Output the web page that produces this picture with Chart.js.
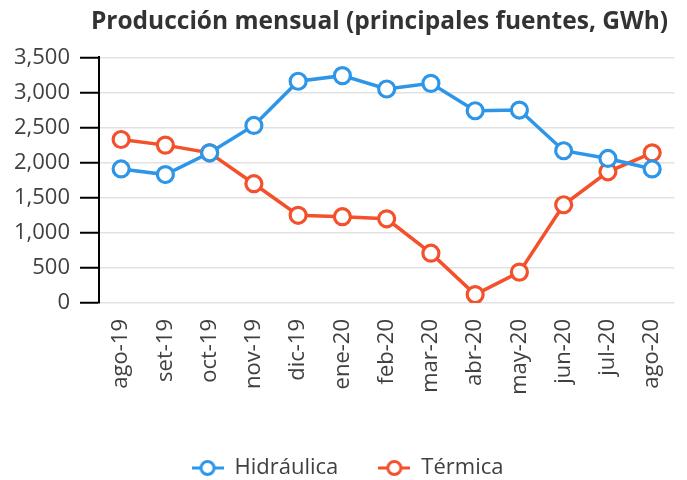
<!DOCTYPE html>
<html>
<head>
<meta charset="utf-8">
<script src="https://cdn.jsdelivr.net/npm/chart.js@4.4.0/dist/chart.umd.min.js"></script>
<style>
    html, body { margin: 0; padding: 0; background: #fff; }
    #wrap { width: 687px; height: 480px; }
</style>
</head>
<body>
<div id="wrap"><canvas id="produccionChart"></canvas></div>
<script>
// Chart data
const months = ['ago-19', 'set-19', 'oct-19', 'nov-19', 'dic-19', 'ene-20', 'feb-20',
    'mar-20', 'abr-20', 'may-20', 'jun-20', 'jul-20', 'ago-20'];
const hidraulica = [1910, 1830, 2140, 2530, 3160, 3240, 3050, 3130, 2740, 2750, 2170, 2060, 1910];
const termica = [2330, 2250, 2140, 1700, 1250, 1230, 1200, 710, 120, 440, 1400, 1870, 2140];
const yTicks = [0, 500, 1000, 1500, 2000, 2500, 3000, 3500];

const BLUE = '#2e96e8';
const RED = '#f4502c';
const FONT = "'Open Sans', sans-serif";
const PLOT_BOTTOM = 303;
const LEGEND_Y = 468;
const LEGEND_DX = 4;

// Legend icon: short line with an open circle
function legendIcon(color) {
    const c = document.createElement('canvas');
    c.width = 32;
    c.height = 18;
    const g = c.getContext('2d');
    g.strokeStyle = color;
    g.lineWidth = 3;
    g.beginPath();
    g.moveTo(0, 9);
    g.lineTo(32, 9);
    g.stroke();
    g.beginPath();
    g.arc(16, 9, 6.5, 0, Math.PI * 2);
    g.fillStyle = '#fff';
    g.fill();
    g.stroke();
    return c;
}

// Move the legend row to where the reference draws it
// (runs after the legend's own afterUpdate, so hit boxes are absolute)
const legendShift = {
    id: 'legendShift',
    afterUpdate(chart) {
        const lg = chart.legend;
        if (lg && lg.legendHitBoxes.length) {
            const hb = lg.legendHitBoxes[0];
            const dy = LEGEND_Y - (hb.top + hb.height / 2);
            lg.top += dy;
            lg.bottom += dy;
            lg.left += LEGEND_DX;
            lg.right += LEGEND_DX;
            lg.legendHitBoxes.forEach(b => { b.top += dy; b.left += LEGEND_DX; });
        }
        // centre the title a bit right of the canvas middle
        if (chart.titleBlock) chart.titleBlock.left = 72;
    }
};

const ctx = document.getElementById('produccionChart').getContext('2d');

const produccionChart = new Chart(ctx, {
    type: 'line',
    data: {
        labels: months,
        datasets: [{
            label: 'Hidráulica',
            data: hidraulica,
            borderColor: BLUE,
            backgroundColor: '#fff',
            pointBorderColor: BLUE,
            pointBackgroundColor: '#fff',
            borderWidth: 3.5,
            pointRadius: 8,
            pointBorderWidth: 3.2,
            pointHoverRadius: 8,
            legendIcon: legendIcon(BLUE)
        }, {
            label: 'Térmica',
            data: termica,
            borderColor: RED,
            backgroundColor: '#fff',
            pointBorderColor: RED,
            pointBackgroundColor: '#fff',
            borderWidth: 3.5,
            pointRadius: 8,
            pointBorderWidth: 3.2,
            pointHoverRadius: 8,
            legendIcon: legendIcon(RED)
        }]
    },
    options: {
        responsive: true,
        maintainAspectRatio: false,
        animation: false,
        layout: { padding: 0 },
        scales: {
            x: {
                offset: true,
                grid: { display: false },
                border: { display: false },
                ticks: {
                    color: '#404040',
                    font: { family: FONT, size: 22 },
                    minRotation: 90,
                    maxRotation: 90,
                    padding: 8
                },
                afterFit: (scale) => {
                    const lg = scale.chart.legend;
                    scale.height = scale.chart.height - (lg ? lg.height : 0) - PLOT_BOTTOM;
                }
            },
            y: {
                min: 0,
                max: 3500,
                afterBuildTicks: (scale) => {
                    scale.ticks = yTicks.map(v => ({ value: v }));
                },
                grid: {
                    color: '#e2e2e2',
                    lineWidth: 1.5,
                    tickColor: '#000',
                    tickLength: 19,
                    tickWidth: 2
                },
                border: { color: '#000', width: 2 },
                ticks: {
                    color: '#404040',
                    font: { family: FONT, size: 22 },
                    padding: 10,
                    callback: (v) => v.toLocaleString('en-US')
                },
                afterFit: (scale) => { scale.width = 99; }
            }
        },
        plugins: {
            title: {
                display: true,
                text: 'Producción mensual (principales fuentes, GWh)',
                color: '#333',
                font: { family: FONT, size: 24.5, weight: 'bold' },
                padding: { top: 7, bottom: 21 }
            },
            legend: {
                position: 'bottom',
                labels: {
                    usePointStyle: true,
                    pointStyleWidth: 32,
                    color: '#404040',
                    font: { family: FONT, size: 22 },
                    padding: 40,
                    generateLabels: (chart) => chart.data.datasets.map((ds, i) => ({
                        text: ds.label,
                        pointStyle: ds.legendIcon,
                        fontColor: '#404040',
                        strokeStyle: ds.borderColor,
                        fillStyle: '#fff',
                        lineWidth: 0,
                        hidden: !chart.isDatasetVisible(i),
                        datasetIndex: i
                    }))
                }
            },
            tooltip: { enabled: false }
        }
    },
    plugins: [legendShift]
});
</script>
</body>
</html>
